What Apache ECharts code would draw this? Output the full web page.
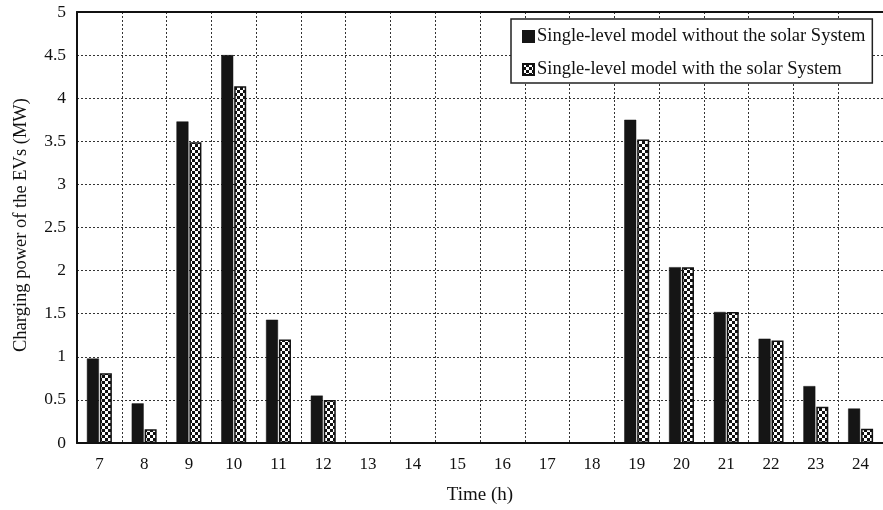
<!DOCTYPE html>
<html>
<head>
<meta charset="utf-8">
<script src="https://cdn.jsdelivr.net/npm/echarts@6/dist/echarts.min.js"></script>
<style>html,body{margin:0;padding:0;background:#fff}#c{width:883px;height:510px}</style>
</head>
<body>
<div id="c"></div>
<script>
const hours = ['7','8','9','10','11','12','13','14','15','16','17','18','19','20','21','22','23','24'];
const withoutSolar = [0.98,0.46,3.73,4.50,1.43,0.55,0,0,0,0,0,0,3.75,2.04,1.52,1.21,0.66,0.40];
const withSolar = [0.81,0.16,3.49,4.14,1.20,0.50,0,0,0,0,0,0,3.52,2.04,1.52,1.19,0.42,0.165];
const yTicks = [0,0.5,1,1.5,2,2.5,3,3.5,4,4.5,5];
const yTitle = 'Charging power of the EVs (MW)';
const xTitle = 'Time (h)';

const pc = document.createElement('canvas');
pc.width = 6; pc.height = 6;
const g = pc.getContext('2d');
g.fillStyle = '#111'; g.fillRect(0,0,6,6);
g.fillStyle = '#fff'; g.fillRect(0,0,3,3); g.fillRect(3,3,3,3);

const font = '"Liberation Serif","Times New Roman",serif';
const chart = echarts.init(document.getElementById('c'), null, {renderer:'canvas'});
chart.setOption({
  animation: false,
  backgroundColor: '#fff',
  textStyle: {fontFamily: font, color: '#111'},
  grid: {left: 77, right: -6, top: 12, bottom: 65},
  legend: {
    orient: 'vertical', left: 511, top: 19,
    backgroundColor: '#fff', borderColor: '#222', borderWidth: 1.5,
    padding: [8, 7, 4, 11], itemGap: 14, itemWidth: 11, itemHeight: 11,
    textStyle: {fontFamily: font, fontSize: 18.5, color: '#111', padding: [0,0,0,-2]},
    data: [
      {name: 'Single-level model without the solar System', icon: 'rect'},
      {name: 'Single-level model with the solar System', icon: 'rect'}
    ]
  },
  graphic: [{
    type: 'text', x: 21, y: 225, rotation: Math.PI / 2,
    style: {text: yTitle, font: '18.5px ' + font, fill: '#111', align: 'center', verticalAlign: 'middle'}
  }],
  xAxis: [{
    type: 'category', data: hours,
    name: xTitle, nameLocation: 'middle', nameGap: 43,
    nameTextStyle: {fontFamily: font, fontSize: 19, color: '#111'},
    axisLine: {lineStyle: {color: '#111', width: 2}},
    axisTick: {show: false},
    axisLabel: {fontFamily: font, fontSize: 17, color: '#111', margin: 13},
    splitLine: {show: true, lineStyle: {color: '#333', type: [2,2], width: 1}}
  },{
    type: 'category', data: hours, position: 'top',
    axisLine: {lineStyle: {color: '#111', width: 2}},
    axisTick: {show: false}, axisLabel: {show: false}, splitLine: {show: false}
  }],
  yAxis: {
    type: 'value', min: yTicks[0], max: yTicks[yTicks.length-1], interval: 0.5,
    axisLine: {show: true, lineStyle: {color: '#111', width: 2}},
    axisTick: {show: false},
    axisLabel: {fontFamily: font, fontSize: 17.5, color: '#111', margin: 11},
    splitLine: {show: true, lineStyle: {color: '#333', type: [2,2], width: 1}}
  },
  series: [{
    name: 'Single-level model without the solar System', type: 'bar',
    data: withoutSolar, barWidth: 12, barGap: '8%',
    itemStyle: {color: '#151515', borderColor: '#151515', borderWidth: 0.5}
  },{
    name: 'Single-level model with the solar System', type: 'bar',
    data: withSolar, barWidth: 12,
    itemStyle: {color: {image: pc, repeat: 'repeat'}, borderColor: '#111', borderWidth: 1.5}
  }]
});
</script>
</body>
</html>
